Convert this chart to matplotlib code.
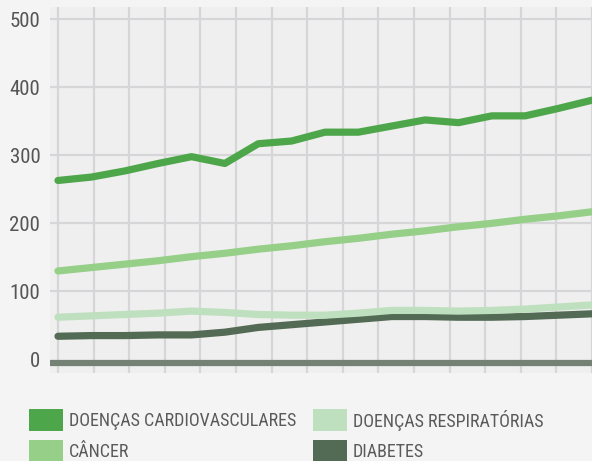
import numpy as np
import matplotlib
matplotlib.use("Agg")
import matplotlib.pyplot as plt
from matplotlib.patches import Rectangle

# data (17 yearly points)
years = list(range(2000, 2017))
cardio = [263, 268, 277, 288, 298, 288, 317, 321, 334, 334, 343, 352, 348, 358, 358, 369, 381]
cancer = [130, 135, 140, 145, 151, 156, 162, 167, 173, 178, 184, 189, 195, 200, 206, 211, 217]
respir = [62, 64, 66, 68, 71, 69, 66, 65, 65, 68, 72, 72, 71, 72, 74, 77, 80]
diabet = [34, 35, 35, 36, 36, 40, 47, 51, 55, 59, 63, 63, 62, 62, 63, 65, 67]

labels = ["DOENÇAS CARDIOVASCULARES", "CÂNCER", "DOENÇAS RESPIRATÓRIAS", "DIABETES"]
colors = ["#4ea64a", "#96cf88", "#bfe0bf", "#536b54"]
yticks = [0, 100, 200, 300, 400, 500]

plt.rcParams["font.family"] = ["Roboto Condensed", "DejaVu Sans Condensed",
                               "Noto Sans Condensed", "Liberation Sans Narrow",
                               "Roboto", "DejaVu Sans"]

fig = plt.figure(figsize=(5.92, 4.61), dpi=100, facecolor="#f4f4f4")
ax = fig.add_axes([50 / 592, 1 - 373 / 461, 1 - 50 / 592, (373 - 7) / 461])
ax.set_facecolor("#efefef")

x = np.arange(len(years))
n = len(years) - 1
ax.set_xlim(-8 / 33.375, n)
ax.set_ylim(-20, 518)

# vertical grid (16 lines across the span), horizontal grid at the y ticks
ax.set_xticks(np.linspace(0, n, 16))
ax.set_xticklabels([])
ax.set_yticks(yticks)
ax.set_yticklabels([str(v) for v in yticks], fontsize=15, color="#555555")
ax.tick_params(length=0, pad=7)
ax.grid(True, color="#d6d6d8", linewidth=1.6)
ax.set_axisbelow(True)
ax.get_ygridlines()[0].set_visible(False)
for s in ax.spines.values():
    s.set_visible(False)

# thick base line
ax.axhline(-6, color="#738274", linewidth=4.5, zorder=2)

series = [cardio, cancer, respir, diabet]
order = [3, 2, 1, 0]
for i in order:
    ax.plot(x, series[i], color=colors[i], linewidth=5.2,
            solid_capstyle="round", solid_joinstyle="round", zorder=3 + (3 - i))

# legend drawn in figure pixels
W, H = 592, 461
pos = [(29, 409), (29, 440), (313, 409), (313, 440)]
for (px, py), lab, c in zip(pos, labels, colors):
    fig.patches.append(Rectangle((px / W, 1 - (py + 22) / H), 34 / W, 22 / H,
                                 transform=fig.transFigure, facecolor=c,
                                 edgecolor="none"))
    fig.text((px + 40) / W, 1 - (py + 11.5) / H, lab, fontsize=13,
             color="#5a5a5a", va="center", ha="left")

fig.savefig("out.png", dpi=100, facecolor=fig.get_facecolor())
